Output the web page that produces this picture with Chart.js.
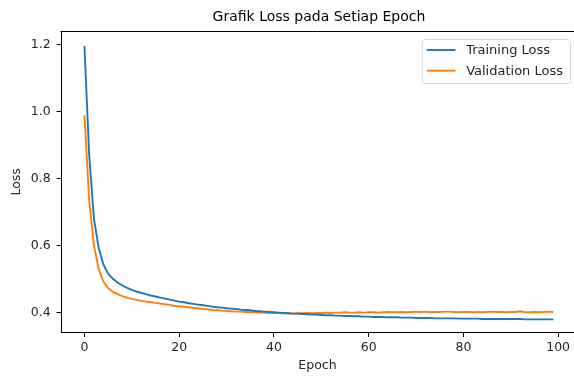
<!DOCTYPE html>
<html>
<head>
<meta charset="utf-8">
<script src="https://cdn.jsdelivr.net/npm/chart.js@4/dist/chart.umd.min.js"></script>
<style>
  html, body { margin: 0; padding: 0; background: #fff; overflow: hidden; }
  canvas { display: block; }
</style>
</head>
<body>
<canvas id="myChart" width="574" height="376"></canvas>
<script>
// values
var trainLoss = [
  1.195, 0.870, 0.680, 0.592, 0.543, 0.515, 0.500, 0.489, 0.480, 0.473,
  0.467, 0.462, 0.458, 0.454, 0.450, 0.447, 0.444, 0.441, 0.438, 0.435,
  0.432, 0.430, 0.427, 0.425, 0.423, 0.421, 0.419, 0.417, 0.415, 0.414,
  0.412, 0.411, 0.410, 0.408, 0.407, 0.406, 0.404, 0.403, 0.402, 0.401,
  0.400, 0.399, 0.398, 0.397, 0.396, 0.396, 0.395, 0.394, 0.393, 0.393,
  0.392, 0.391, 0.391, 0.390, 0.390, 0.389, 0.389, 0.388, 0.388, 0.387,
  0.387, 0.386, 0.386, 0.386, 0.385, 0.385, 0.385, 0.384, 0.384, 0.384,
  0.383, 0.383, 0.383, 0.383, 0.382, 0.382, 0.382, 0.382, 0.382, 0.381,
  0.381, 0.381, 0.381, 0.381, 0.380, 0.380, 0.380, 0.380, 0.380, 0.380,
  0.380, 0.380, 0.380, 0.379, 0.379, 0.379, 0.379, 0.379, 0.379, 0.379
]
var valLoss = [
  0.988, 0.735, 0.600, 0.530, 0.492, 0.472, 0.461, 0.454, 0.448, 0.444,
  0.440, 0.437, 0.434, 0.432, 0.430, 0.428, 0.426, 0.424, 0.422, 0.419,
  0.418, 0.417, 0.415, 0.413, 0.412, 0.410, 0.409, 0.407, 0.406, 0.405,
  0.404, 0.403, 0.402, 0.402, 0.401, 0.400, 0.400, 0.399, 0.399, 0.398,
  0.398, 0.398, 0.397, 0.398, 0.396, 0.397, 0.397, 0.398, 0.397, 0.398,
  0.398, 0.399, 0.398, 0.399, 0.399, 0.400, 0.399, 0.399, 0.400, 0.399,
  0.400, 0.400, 0.399, 0.400, 0.401, 0.400, 0.400, 0.401, 0.400, 0.401,
  0.402, 0.401, 0.402, 0.400, 0.401, 0.401, 0.402, 0.402, 0.401, 0.400,
  0.401, 0.401, 0.400, 0.401, 0.400, 0.401, 0.402, 0.401, 0.401, 0.400,
  0.401, 0.401, 0.403, 0.400, 0.400, 0.401, 0.400, 0.401, 0.402, 0.401
]
var epochs = trainLoss.map(function(v, i) { return i })
var xTicks = [0, 20, 40, 60, 80, 100]
var yTicks = [0.4, 0.6, 0.8, 1.0, 1.2]
var seriesNames = ['Training Loss', 'Validation Loss']
var chartTitle = 'Grafik Loss pada Setiap Epoch'

var FONT = "'DejaVu Sans', sans-serif"
var TXT = '#262626'

// top/bottom spines running to the picture edge, title centred on the axes,
// legend box. The right spine of the original falls just outside the picture.
var framePlugin = {
  id: 'frame',
  afterDraw: function(chart) {
    var ctx = chart.ctx
    var a = chart.chartArea
    var W = chart.width
    ctx.save()
    // keep the strip right of the last point blank
    ctx.fillStyle = '#fff'
    ctx.fillRect(558, a.top + 60, W - 558, a.bottom - a.top - 62)
    ctx.fillRect(572, a.top + 2, W - 572, 60)

    ctx.strokeStyle = '#000'
    ctx.lineWidth = 1
    var yb = Math.round(a.bottom - 0.5) + 0.5
    ctx.beginPath()
    ctx.moveTo(a.left - 0.5, a.top + 0.5)
    ctx.lineTo(W, a.top + 0.5)
    ctx.moveTo(a.left, yb)
    ctx.lineTo(W, yb)
    ctx.stroke()

    ctx.fillStyle = '#000'
    ctx.font = '14px ' + FONT
    ctx.textAlign = 'center'
    ctx.textBaseline = 'middle'
    ctx.fillText(chartTitle, 319, 17)

    // legend
    ctx.font = '13px ' + FONT
    var sets = chart.data.datasets
    var maxW = 0
    sets.forEach(function(d) { maxW = Math.max(maxW, ctx.measureText(d.label).width) })
    var boxR = 570, boxT = a.top + 8
    var lineLen = 28.7, gap = 10.7, padL = 5, padR = 7
    var boxW = padL + lineLen + gap + maxW + padR
    var boxL = boxR - boxW
    var boxH = 44
    ctx.fillStyle = 'rgba(255,255,255,0.8)'
    ctx.strokeStyle = '#d6d6d6'
    ctx.lineWidth = 1
    ctx.beginPath()
    ctx.roundRect(boxL + 0.5, boxT + 0.5, boxW, boxH, 3)
    ctx.fill()
    ctx.stroke()
    sets.forEach(function(d, i) {
      var y = boxT + 11 + i * 20.7
      ctx.strokeStyle = d.borderColor
      ctx.lineWidth = d.borderWidth
      ctx.beginPath()
      ctx.moveTo(boxL + padL, y)
      ctx.lineTo(boxL + padL + lineLen, y)
      ctx.stroke()
      ctx.fillStyle = TXT
      ctx.textBaseline = 'middle'
      ctx.textAlign = 'left'
      ctx.fillText(d.label, boxL + padL + lineLen + gap, y + 0.5)
    })
    ctx.restore()
  }
}

var ctx = document.getElementById('myChart').getContext('2d')
var chart = new Chart(ctx, {
  type: 'line',
  data: {
    labels: epochs,
    datasets: [{
      label: seriesNames[0],
      data: trainLoss,
      borderColor: '#1f77b4',
      backgroundColor: '#1f77b4',
      borderWidth: 1.9,
      pointRadius: 0,
      tension: 0
    }, {
      label: seriesNames[1],
      data: valLoss,
      borderColor: '#ff7f0e',
      backgroundColor: '#ff7f0e',
      borderWidth: 1.9,
      pointRadius: 0,
      tension: 0
    }]
  },
  options: {
    responsive: false,
    animation: false,
    layout: { padding: { left: 0, right: 0, top: 31, bottom: 0 } },
    plugins: {
      legend: { display: false },
      tooltip: { enabled: false },
      title: { display: false }
    },
    scales: {
      x: {
        type: 'linear',
        min: -4.95,
        max: 103.35,
        afterBuildTicks: function(s) { s.ticks = xTicks.map(function(v) { return { value: v } }) },
        afterFit: function(s) { s.height = 43.3; s.paddingLeft = 0; s.paddingRight = 0 },
        grid: { drawOnChartArea: false, color: '#000', tickLength: 4.4, lineWidth: 1 },
        border: { display: true, color: '#000', width: 1 },
        ticks: { color: TXT, font: { family: FONT, size: 12.5 }, padding: 3, maxRotation: 0 },
        title: { display: true, text: 'Epoch', color: TXT, font: { family: FONT, size: 12.5 }, padding: { top: 0, bottom: 3 } }
      },
      y: {
        type: 'linear',
        min: 0.3391,
        max: 1.2397,
        afterBuildTicks: function(s) { s.ticks = yTicks.map(function(v) { return { value: v } }) },
        afterFit: function(s) { s.width = 61; s.paddingTop = 0; s.paddingBottom = 0 },
        grid: { drawOnChartArea: false, color: '#000', tickLength: 4.4, lineWidth: 1 },
        border: { display: true, color: '#000', width: 1 },
        ticks: {
          color: TXT,
          font: { family: FONT, size: 12.5 },
          padding: 6,
          callback: function(v) { return Number(v).toFixed(1) }
        },
        title: { display: true, text: 'Loss', color: TXT, font: { family: FONT, size: 12.5 }, padding: { top: 9, bottom: 0 } }
      }
    }
  },
  plugins: [framePlugin]
})
</script>
</body>
</html>
